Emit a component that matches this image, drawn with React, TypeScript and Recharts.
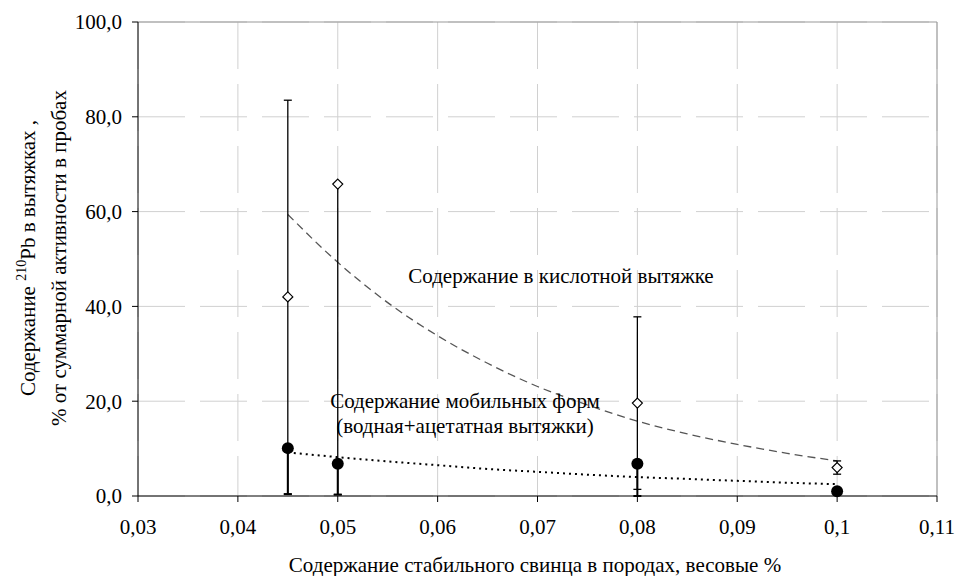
import React from 'react';
import {
    ComposedChart,
    Line,
    Scatter,
    ErrorBar,
    XAxis,
    YAxis,
    CartesianGrid,
    ReferenceLine,
} from 'recharts';

// measured points
const leadContent = [0.045, 0.05, 0.08, 0.1];
const acidValues = [42.0, 65.8, 19.6, 6.0];
const acidErrMinus = [41.6, 65.5, 18.2, 1.4];
const acidErrPlus = [41.5, 0, 18.2, 1.4];
const mobileValues = [10.1, 6.8, 6.8, 1.0];
const mobileErrMinus = [9.7, 6.5, 6.8, 0];
const mobileErrPlus = [0, 0, 0, 0];

// trend curves
const trendX = [0.045, 0.05, 0.055, 0.06, 0.065, 0.07, 0.075, 0.08, 0.085, 0.09, 0.095, 0.1];
const acidTrend = [59.4, 49.3, 40.8, 33.8, 28.0, 23.1, 19.2, 15.8, 13.1, 10.9, 9.0, 7.4];
const mobileTrend = [9.2, 8.2, 7.3, 6.5, 5.7, 5.1, 4.5, 4.0, 3.6, 3.2, 2.8, 2.5];

const xTicks = [0.03, 0.04, 0.05, 0.06, 0.07, 0.08, 0.09, 0.1, 0.11];
const yTicks = [0, 20, 40, 60, 80, 100];

const FONT = 'Liberation Serif';

const acidData = leadContent.map((x, i) => ({ x, y: acidValues[i], err: [acidErrMinus[i], acidErrPlus[i]] }));
const mobileData = leadContent.map((x, i) => ({ x, y: mobileValues[i], err: [mobileErrMinus[i], mobileErrPlus[i]] }));
const acidTrendData = trendX.map((x, i) => ({ x, y: acidTrend[i] }));
const mobileTrendData = trendX.map((x, i) => ({ x, y: mobileTrend[i] }));

const Diamond = (props: any) => {
    const { cx, cy } = props;
    if (cx == null || cy == null) return null;
    const s = 5;
    return (
        <polygon
            points={`${cx},${cy - s} ${cx + s},${cy} ${cx},${cy + s} ${cx - s},${cy}`}
            fill="#fff"
            stroke="#000"
            strokeWidth={1.2}
        />
    );
};

const Dot = (props: any) => {
    const { cx, cy } = props;
    if (cx == null || cy == null) return null;
    return <circle cx={cx} cy={cy} r={6} fill="#000" />;
};

const tickStyle = { fontFamily: FONT, fontSize: 21, fill: '#000', style: { fontFamily: FONT } };

export default function App() {
    return (
        <div style={{ position: 'absolute', left: 0, top: 0, width: 957, height: 576, background: '#fff', fontFamily: FONT }}>
            <style>{`svg text, svg tspan { font-family: 'Liberation Serif', 'Times New Roman', serif !important; }`}</style>
            <ComposedChart width={957} height={576} margin={{ top: 22, right: 20, left: 0, bottom: 50 }}>
                <CartesianGrid stroke="#d0d0d0" strokeDasharray="47 15" />
                <ReferenceLine y={100} stroke="#999" />
                <ReferenceLine x={0.11} stroke="#999" />
                <XAxis
                    dataKey="x"
                    type="number"
                    domain={[0.03, 0.11]}
                    ticks={xTicks}
                    allowDataOverflow
                    height={30}
                    tickSize={6}
                    tickMargin={17}
                    stroke="#000"
                    tick={tickStyle}
                    tickFormatter={(v: number) => String(v).replace('.', ',')}
                />
                <YAxis
                    type="number"
                    domain={[0, 100]}
                    ticks={yTicks}
                    width={138}
                    tickSize={6}
                    tickMargin={10}
                    stroke="#000"
                    tick={tickStyle}
                    tickFormatter={(v: number) => v.toFixed(1).replace('.', ',')}
                />
                <Line
                    data={acidTrendData}
                    dataKey="y"
                    type="monotone"
                    stroke="#555"
                    strokeWidth={1.3}
                    strokeDasharray="8 5"
                    dot={false}
                    activeDot={false}
                    isAnimationActive={false}
                />
                <Line
                    data={mobileTrendData}
                    dataKey="y"
                    type="monotone"
                    stroke="#000"
                    strokeWidth={2}
                    strokeDasharray="2 4"
                    dot={false}
                    activeDot={false}
                    isAnimationActive={false}
                />
                <Scatter data={acidData} dataKey="y" shape={<Diamond />} isAnimationActive={false}>
                    <ErrorBar dataKey="err" direction="y" width={4} stroke="#000" strokeWidth={1.3} />
                </Scatter>
                <Scatter data={mobileData} dataKey="y" shape={<Dot />} isAnimationActive={false}>
                    <ErrorBar dataKey="err" direction="y" width={4} stroke="#000" strokeWidth={2} />
                </Scatter>
            </ComposedChart>
            <svg
                width={957}
                height={576}
                style={{ position: 'absolute', left: 0, top: 0, pointerEvents: 'none', fontFamily: FONT }}
                fontSize={21}
            >
                <text x={561} y={283} textAnchor="middle">Содержание в кислотной вытяжке</text>
                <text x={465} y={408} textAnchor="middle">Содержание мобильных форм</text>
                <text x={465} y={433} textAnchor="middle">(водная+ацетатная вытяжки)</text>
                <text x={535} y={572} textAnchor="middle">Содержание стабильного свинца в породах, весовые %</text>
                <text transform="translate(35,258) rotate(-90)" textAnchor="middle">
                    Содержание <tspan fontSize={14} dy={-9}>210</tspan>
                    <tspan dy={9}>Pb в вытяжках ,</tspan>
                </text>
                <text transform="translate(66,258) rotate(-90)" textAnchor="middle">
                    % от суммарной активности в пробах
                </text>
            </svg>
        </div>
    );
}
